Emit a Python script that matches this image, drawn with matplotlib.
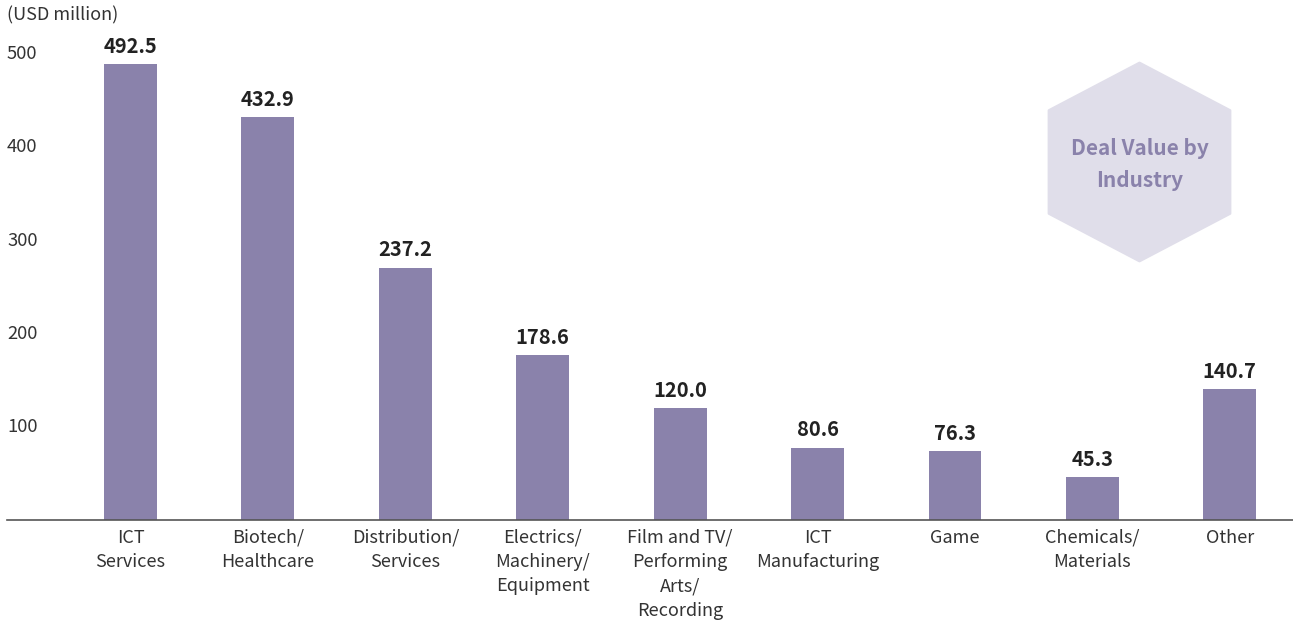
import matplotlib.pyplot as plt
from matplotlib.patches import Polygon

plt.rcParams['font.family'] = ['Noto Sans CJK KR', 'DejaVu Sans']

# ------------------ DATA ------------------
categories = ["ICT\nServices", "Biotech/\nHealthcare", "Distribution/\nServices",
              "Electrics/\nMachinery/\nEquipment", "Film and TV/\nPerforming\nArts/\nRecording",
              "ICT\nManufacturing", "Game", "Chemicals/\nMaterials", "Other"]
values = [492.5, 432.9, 237.2, 178.6, 120.0, 80.6, 76.3, 45.3, 140.7]
# bar heights as drawn in the source (Distribution bar is drawn taller than its label)
bar_heights = [489, 432, 271, 177, 120, 78, 74, 46, 140.5]
y_ticks = [100, 200, 300, 400, 500]

BAR_COLOR = "#8A82AB"
HEX_COLOR = "#E0DEEA"

# ------------------ FIGURE ------------------
fig = plt.figure(figsize=(12.93, 6.21), dpi=100)
ax = fig.add_axes([0, 0, 1, 1])
x0, x1 = -0.95, 8.46
ax.set_xlim(x0, x1)
ax.set_ylim(-108, 558)
ax.axis("off")

x = range(len(categories))
ax.bar(x, bar_heights, width=0.385, color=BAR_COLOR, zorder=2)
ax.axhline(0, xmin=7 / 1293, xmax=1, color="#555555", lw=1.2, zorder=3)

left = x0 + 7 / 137.4
for i, (h, v) in enumerate(zip(bar_heights, values)):
    ax.text(i, h + 8, f"{v:.1f}", ha="center", va="bottom", fontsize=14.5,
            fontweight="bold", color="#222222")
    ax.text(i, -9, categories[i], ha="center", va="top", fontsize=13,
            color="#333333", linespacing=1.45)

for t in y_ticks:
    ax.text(left, t, str(t), ha="left", va="center", fontsize=13.3, color="#333333")
ax.text(left, 541, "(USD million)", ha="left", va="center", fontsize=13, color="#333333")

# hexagon badge (inches, so it stays regular)
cx, cy = 11.395, 4.59
verts = [(cx, cy + 0.99), (cx + 0.905, cy + 0.515), (cx + 0.905, cy - 0.515),
         (cx, cy - 0.99), (cx - 0.905, cy - 0.515), (cx - 0.905, cy + 0.515)]
hexagon = Polygon(verts, closed=True, facecolor=HEX_COLOR, edgecolor=HEX_COLOR,
                  lw=2, joinstyle="round", transform=fig.dpi_scale_trans)
fig.patches.append(hexagon)
fig.text(cx / 12.93, (cy - 0.025) / 6.21, "Deal Value by\nIndustry", ha="center", va="center",
         fontsize=15, fontweight="bold", color="#8A82AB", linespacing=1.7)

fig.savefig("out.png", dpi=100)
